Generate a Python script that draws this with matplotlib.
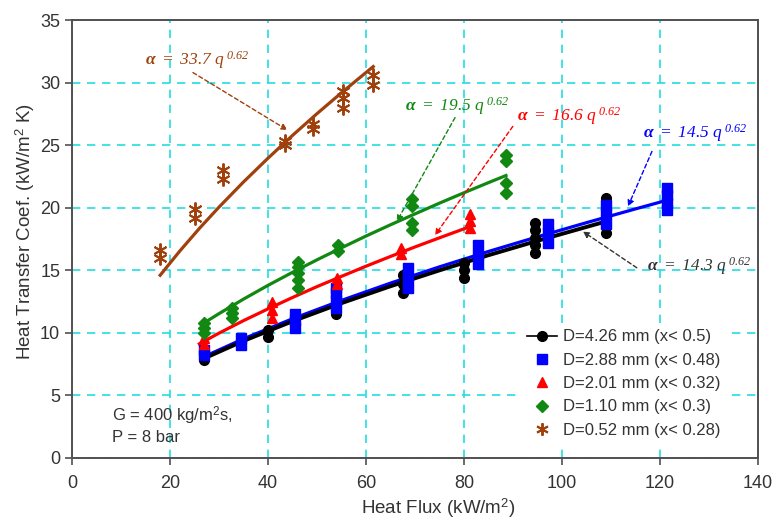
import numpy as np
import matplotlib
matplotlib.use("Agg")
import matplotlib.pyplot as plt
from matplotlib.lines import Line2D

plt.rcParams['font.family'] = ['Liberation Sans', 'DejaVu Sans']
plt.rcParams['mathtext.fontset'] = 'custom'
plt.rcParams['mathtext.it'] = 'Liberation Serif:italic'
plt.rcParams['mathtext.bf'] = 'Liberation Serif:bold:italic'
plt.rcParams['mathtext.rm'] = 'Liberation Serif:italic'

# measured data: (heat flux, HTC) for each tube diameter
q_426 = [27, 27, 40, 40, 54, 54, 54, 67.5, 67.5, 67.5, 80, 80, 80,
         94.5, 94.5, 94.5, 94.5, 94.5, 109, 109, 109, 109, 109]
h_426 = [7.8, 8.1, 9.7, 10.2, 11.5, 12.0, 12.6, 13.2, 13.9, 14.6, 14.4, 15.0, 15.6,
         16.4, 17.0, 17.6, 18.2, 18.8, 18.0, 18.6, 19.4, 20.2, 20.8]

q_288 = [27, 27, 34.5, 34.5, 45.5, 45.5, 45.5, 53.8, 53.8, 53.8, 53.8, 68.6, 68.6, 68.6,
         82.8, 82.8, 82.8, 97.2, 97.2, 97.2, 109, 109, 109, 121.5, 121.5, 121.5, 121.5]
h_288 = [8.2, 8.6, 9.0, 9.6, 10.4, 11.0, 11.5, 12.0, 12.6, 13.2, 13.6, 13.6, 14.4, 15.2,
         15.5, 16.2, 17.0, 17.2, 18.0, 18.7, 18.7, 19.5, 20.2, 19.8, 20.4, 21.0, 21.6]

q_201 = [27, 27, 40.8, 40.8, 40.8, 54.2, 54.2, 67.2, 67.2, 81.2, 81.2, 81.2]
h_201 = [9.1, 9.6, 11.2, 11.8, 12.5, 13.9, 14.4, 16.3, 16.8, 18.4, 18.9, 19.5]

q_110 = [27, 27, 27, 32.6, 32.6, 32.6, 46.1, 46.1, 46.1, 46.1, 46.1, 54.4, 54.4,
         69.4, 69.4, 69.4, 69.4, 88.6, 88.6, 88.6, 88.6]
h_110 = [10.0, 10.4, 10.8, 11.2, 11.6, 12.0, 13.6, 14.2, 14.8, 15.3, 15.7, 16.5, 17.0,
         18.2, 18.8, 20.1, 20.7, 21.2, 22.0, 23.7, 24.2]

q_052 = [18, 18, 25.2, 25.2, 30.8, 30.8, 43.5, 43.5, 49.2, 49.2, 55.3, 55.3, 55.3, 61.4, 61.4]
h_052 = [16.0, 16.6, 19.2, 19.9, 22.3, 23.0, 25.0, 25.3, 26.3, 26.7, 28.0, 28.8, 29.3, 29.8, 30.6]

# fitted correlation curves
fq_426 = [27, 35, 45, 55, 65, 75, 85, 95, 109]
fh_426 = [7.96, 9.35, 10.92, 12.37, 13.72, 14.99, 16.2, 17.35, 18.9]
fq_288 = [27, 35, 45, 55, 65, 75, 85, 95, 105, 115, 121.5]
fh_288 = [8.1, 9.52, 11.12, 12.59, 13.97, 15.27, 16.5, 17.67, 18.8, 19.9, 20.6]
fq_201 = [26, 30, 35, 40, 45, 50, 55, 60, 65, 70, 75, 81.2]
fh_201 = [9.12, 9.97, 10.97, 11.91, 12.82, 13.69, 14.51, 15.32, 16.1, 16.86, 17.59, 18.48]
fq_110 = [27, 30, 35, 40, 45, 50, 55, 60, 65, 70, 75, 80, 85, 88.6]
fh_110 = [10.8, 11.53, 12.69, 13.79, 14.83, 15.83, 16.79, 17.73, 18.63, 19.5, 20.36, 21.19, 22.0, 22.57]
fq_052 = [18, 22, 26, 30, 35, 40, 45, 50, 55, 61.5]
fh_052 = [14.6, 16.53, 18.34, 20.04, 22.05, 23.95, 25.77, 27.51, 29.18, 31.28]

labels = ['D=4.26 mm (x< 0.5)', 'D=2.88 mm (x< 0.48)', 'D=2.01 mm (x< 0.32)',
          'D=1.10 mm (x< 0.3)', 'D=0.52 mm (x< 0.28)']
coefs = ['14.3', '14.5', '16.6', '19.5', '33.7']

fig = plt.figure(figsize=(7.78, 5.21), dpi=100)
ax = fig.add_axes([0.0925, 0.121, 0.8815, 0.8406])

ax.set_xlim(0, 140)
ax.set_ylim(0, 35)
ax.set_xticks(range(0, 141, 20))
ax.set_yticks(range(0, 36, 5))
ax.grid(True, color='#22dde0', linestyle=(0, (5, 4)), lw=1.2)
for s in ax.spines.values():
    s.set_color('#505050')
    s.set_linewidth(1.4)
ax.tick_params(colors='#505050', labelcolor='#333333', labelsize=13, length=5, width=1.2)
ax.tick_params(axis='x', pad=7)

ax.set_xlabel('Heat Flux (kW/m$^\\mathregular{2}$)', fontsize=13.5, color='#333333')
ax.set_ylabel('Heat Transfer Coef. (kW/m$^\\mathregular{2}$ K)', fontsize=13.5, color='#333333')
ax.xaxis.set_label_coords((438 - 72) / 686, -(508 - 458) / 438)
ax.yaxis.set_label_coords(-(72 - 25) / 686, (458 - 232) / 438)
ax.xaxis.label.set_va('center')
ax.yaxis.label.set_va('center')

# fit lines
ax.plot(fq_052, fh_052, color='#a0410d', lw=2.3, zorder=3)
ax.plot(fq_110, fh_110, color='#118811', lw=2.3, zorder=3)
ax.plot(fq_201, fh_201, color='red', lw=2.3, zorder=3)
ax.plot(fq_288, fh_288, color='blue', lw=2.3, zorder=3)
ax.plot(fq_426, fh_426, color='black', lw=2.8, zorder=3)

# data points
ax.plot(q_426, h_426, 'o', color='black', ms=7, zorder=4)
ax.plot(q_288, h_288, 's', color='blue', ms=7, zorder=4)
ax.plot(q_201, h_201, '^', color='red', ms=7.5, zorder=4)
ax.plot(q_110, h_110, 'D', color='#118811', ms=6, zorder=4)
ax.plot(q_052, h_052, marker=(6, 2, 0), ls='none', color='#a0410d', ms=10, mew=1.4, zorder=4)

# correlation labels with dashed arrows
notes = [
    (coefs[4], '#a0410d', (14.9, 31.8), (24.7, 30.8), (44.0, 26.2)),
    (coefs[3], '#118811', (68.0, 28.1), (78.2, 27.2), (66.3, 18.9)),
    (coefs[2], 'red', (90.8, 27.3), (90.0, 26.5), (74.1, 17.8)),
    (coefs[1], 'blue', (116.5, 26.0), (118.4, 24.5), (113.5, 20.1)),
    (coefs[0], '#333333', (117.3, 15.3), (115.3, 15.2), (104.3, 18.1)),
]
for c, col, tpos, a0, a1 in notes:
    ax.text(tpos[0], tpos[1], r'$\mathbf{\alpha}\ =\ %s\ q^{\ 0.62}$' % c,
            color=col, fontsize=12.5, ha='left', va='center', zorder=6)
    ax.annotate('', xy=a1, xytext=a0,
                arrowprops=dict(arrowstyle='-|>', color=col, lw=1.0,
                                linestyle=(0, (3, 2)), mutation_scale=9,
                                shrinkA=0, shrinkB=0), zorder=6)

ax.text(8.2, 3.4, 'G = 400 kg/m$^\\mathregular{2}$s,', fontsize=12, color='#333333', va='center')
ax.text(8.2, 1.65, 'P = 8 bar', fontsize=12, color='#333333', va='center')

handles = [
    Line2D([], [], color='black', marker='o', ms=7, lw=1.2),
    Line2D([], [], color='blue', marker='s', ls='none', ms=7),
    Line2D([], [], color='red', marker='^', ls='none', ms=7),
    Line2D([], [], color='#118811', marker='D', ls='none', ms=6),
    Line2D([], [], color='#a0410d', marker=(6, 2, 0), ls='none', ms=9, mew=1.4),
]
leg = ax.legend(handles, labels, loc='lower right', bbox_to_anchor=(0.968, 0.012),
                frameon=True, fontsize=12, handlelength=1.8, handletextpad=0.35,
                labelspacing=0.5, borderpad=0.4, fancybox=False, edgecolor='none',
                framealpha=1)
for t in leg.get_texts():
    t.set_color('#333333')

fig.savefig('out.png', dpi=100)
